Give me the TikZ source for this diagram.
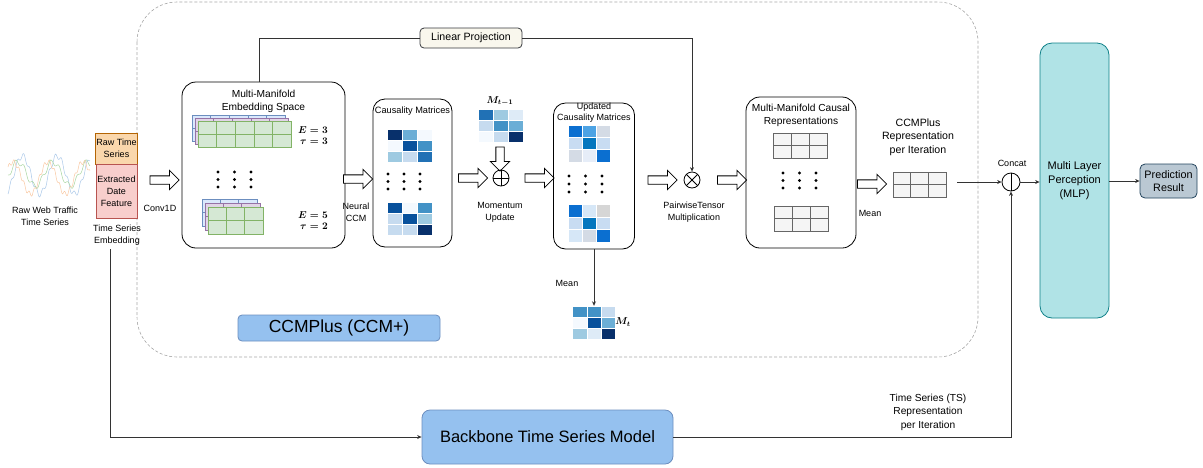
\documentclass[tikz,border=0pt]{standalone}
\usepackage{fontspec}
\setmainfont{Liberation Sans}
\usepackage{amsmath}
\usetikzlibrary{arrows.meta,positioning,calc,shapes.arrows}

% heat-map palette
\definecolor{bl0}{HTML}{F4F9FE}
\definecolor{bl1}{HTML}{DEEBF7}
\definecolor{bl2}{HTML}{C6DBEF}
\definecolor{bl3}{HTML}{9ECAE1}
\definecolor{bl4}{HTML}{6BAED6}
\definecolor{bl5}{HTML}{4292C6}
\definecolor{bl6}{HTML}{2171B5}
\definecolor{bl7}{HTML}{08519C}
\definecolor{bl8}{HTML}{08306B}
\definecolor{ub1}{HTML}{0B6FD0}
\definecolor{ub2}{HTML}{4DA3E4}
\definecolor{ub3}{HTML}{D4DBE5}
\definecolor{ub4}{HTML}{C8DCF2}
\definecolor{ub5}{HTML}{0476BE}
\definecolor{ub6}{HTML}{E6EDF8}
\definecolor{ub7}{HTML}{D6D6D6}
\definecolor{ub8}{HTML}{D6E7F7}
% boxes and lines
\definecolor{rawfill}{HTML}{FAD7AC}
\definecolor{rawline}{HTML}{B46504}
\definecolor{datefill}{HTML}{F8CECC}
\definecolor{dateline}{HTML}{B85450}
\definecolor{gfill}{HTML}{D5E8D4}
\definecolor{gline}{HTML}{82B366}
\definecolor{pfill}{HTML}{E1D5E7}
\definecolor{pline}{HTML}{9673A6}
\definecolor{bfill}{HTML}{DAE8FC}
\definecolor{bline}{HTML}{6C8EBF}
\definecolor{cellfill}{HTML}{F5F5F5}
\definecolor{cellline}{HTML}{666666}
\definecolor{ccmfill}{HTML}{95C1EF}
\definecolor{mlpfill}{HTML}{B0E3E6}
\definecolor{mlpline}{HTML}{0E8088}
\definecolor{predfill}{HTML}{BAC8D3}
\definecolor{predline}{HTML}{23445D}
\definecolor{lpfill}{HTML}{F9F7ED}
\definecolor{lpline}{HTML}{36393D}
\definecolor{conline}{HTML}{333333}
\definecolor{framegray}{HTML}{A6A6A6}
\definecolor{waveblue}{HTML}{A9C7E8}
\definecolor{wavegreen}{HTML}{A8D5A0}
\definecolor{waveorange}{HTML}{F9C9A3}

\tikzset{
  panel/.style={draw=black, line width=0.8pt, rounded corners=14pt, inner sep=0pt},
  lbl/.style={font=\fontsize{9}{12}\selectfont, align=center, inner sep=1pt},
  biglbl/.style={font=\fontsize{10.6}{13.5}\selectfont, align=center, inner sep=1pt},
  ttl/.style={font=\fontsize{10.2}{13}\selectfont, align=center, inner sep=1pt},
  fatarrow/.style={single arrow, draw=black, fill=white, line width=0.8pt, inner sep=0pt,
    text height=7.5pt, text depth=0pt, text width=0pt,
    single arrow head extend=5.5pt, minimum height=29pt},
  conn/.style={draw=conline, line width=0.8pt},
  flow/.style={-{Stealth[length=4.5pt,width=4pt]}},
  opnode/.style={circle, draw=black, line width=0.8pt, minimum size=16pt, inner sep=0pt},
  frame/.style={draw=framegray, line width=0.6pt, dash pattern=on 3pt off 2pt, rounded corners=40pt},
  wave/.style={line width=0.5pt, smooth}
}

% 3x3 heat map: top-left corner, cell width, cell height, colours row by row
\newcommand{\heatmap}[4]{%
  \foreach \hc [count=\k from 0] in {#4} {
    \pgfmathtruncatemacro{\hrow}{div(\k,3)}
    \pgfmathtruncatemacro{\hcol}{mod(\k,3)}
    \fill[\hc, draw=white, line width=0.3pt] ($#1+(\hcol*#2,\hrow*#3)$) rectangle ++(#2,#3);
  }}
% two-row table of cells: top-left corner, columns, cell width, cell height, style
\newcommand{\cellgrid}[5]{%
  \foreach \gi in {1,...,#2} \foreach \gj in {1,2}
    \draw[#5] ($#1+({(\gi-1)*#3},{(\gj-1)*#4})$) rectangle ++(#3,#4);}
% 3x3 block of dots: top-left dot, dx, dy
\newcommand{\dotblock}[3]{%
  \foreach \di in {0,1,2} \foreach \dj in {0,1,2}
    \fill ($#1+(\di*#2,\dj*#3)$) circle (1.7pt);}

\begin{document}
\begin{tikzpicture}[x=1pt, y=-1pt]
  \useasboundingbox (0,0) rectangle (1203,467);

  % CCM+ frame
  \draw[frame] (137,2) rectangle (978,357);

  % raw input series
  \draw[wave, waveblue] plot[domain=8:90, samples=120] (\x, {175+19*sin(10.3*\x+40)+3*sin(57*\x)});
  \draw[wave, wavegreen] plot[domain=8:90, samples=120] (\x, {174+12*sin(10.3*\x+85)+3*sin(41*\x)});
  \draw[wave, waveorange] plot[domain=8:90, samples=120] (\x, {178+16*sin(10.3*\x+135)+2.5*sin(71*\x)});
  \node[lbl] (rawlbl) at (45,216) {Raw Web Traffic\\Time Series};

  % time series embedding
  \node[draw=rawline, fill=rawfill, line width=0.8pt, inner sep=0pt, lbl,
        minimum width=41pt, minimum height=31pt] (rts) at (116.5,148.5) {Raw Time\\Series};
  \node[draw=dateline, fill=datefill, line width=0.8pt, inner sep=0pt, lbl,
        minimum width=41pt, minimum height=54pt] (edf) at (116.5,191) {Extracted\\Date\\Feature};
  \node[lbl] (emblbl) at (117,235) {Time Series\\Embedding};
  \coordinate (tap) at (110,249);

  \node[fatarrow] (conv) at (162.5,180) {};
  \node[lbl] (convlbl) at (160,208) {Conv1D};

  % multi-manifold embedding space
  \node[panel, minimum width=163pt, minimum height=166pt] (mme) at (263.5,165) {};
  \node[ttl] (mmetitle) at (263.5,101) {Multi-Manifold\\Embedding Space};
  \cellgrid{(192,115)}{5}{18.6}{13}{draw=bline, fill=bfill, line width=0.5pt}
  \cellgrid{(195,118)}{5}{18.6}{13}{draw=pline, fill=pfill, line width=0.5pt}
  \cellgrid{(198,121)}{5}{18.6}{13}{draw=gline, fill=gfill, line width=0.5pt}
  \cellgrid{(202,199)}{3}{18.3}{13.5}{draw=bline, fill=bfill, line width=0.5pt}
  \cellgrid{(205,203)}{3}{18.3}{13.5}{draw=pline, fill=pfill, line width=0.5pt}
  \cellgrid{(208,207)}{3}{18.3}{13.5}{draw=gline, fill=gfill, line width=0.5pt}
  \node[font=\boldmath\fontsize{10}{11}\selectfont, align=right, anchor=east, inner sep=0pt] (et1) at (328,136) {$E=3$\\$\tau=3$};
  \node[font=\boldmath\fontsize{10}{11}\selectfont, align=right, anchor=east, inner sep=0pt] (et2) at (328,221) {$E=5$\\$\tau=2$};
  \dotblock{(218,172)}{16.5}{7.5}

  \node[fatarrow] (nccm) at (356,179) {};
  \node[lbl] (nccmlbl) at (356,212) {Neural\\CCM};

  % causality matrices
  \node[panel, rounded corners=12pt, minimum width=79pt, minimum height=148pt] (cm) at (412.5,173) {};
  \node[lbl, font=\fontsize{9.2}{11}\selectfont] (cmtitle) at (412.5,111) {Causality Matrices};
  \heatmap{(387,129)}{15}{11}{bl8,bl4,bl0,bl0,bl7,bl5,bl3,bl2,bl6}
  \dotblock{(388,174)}{16}{7.5}
  \heatmap{(387,202)}{15}{11}{bl7,bl0,bl5,bl2,bl7,bl3,bl2,bl2,bl8}

  \node[fatarrow] (toplus) at (471,178) {};

  % momentum update
  \node[font=\boldmath\fontsize{10}{11}\selectfont, inner sep=0pt] (mprev) at (500,101) {$M_{t-1}$};
  \heatmap{(478,109)}{15}{11}{bl6,bl3,bl1,bl2,bl5,bl4,bl0,bl2,bl8}
  \node[fatarrow, rotate=-90, minimum height=24pt] (down) at (500,157) {};
  \node[opnode, path picture={
      \draw (path picture bounding box.north) -- (path picture bounding box.south)
            (path picture bounding box.west) -- (path picture bounding box.east);}] (plus) at (501,178) {};
  \node[lbl] (momlbl) at (500,212) {Momentum\\Update};

  \node[fatarrow] (toucm) at (537.5,178) {};

  % updated causality matrices
  \node[panel, rounded corners=12pt, minimum width=81pt, minimum height=146pt] (ucm) at (594,176) {};
  \node[lbl, font=\fontsize{9}{11}\selectfont] (ucmtitle) at (594,113) {Updated\\Causality Matrices};
  \heatmap{(568,125)}{14}{12.3}{ub1,ub2,ub3,ub4,ub5,ub4,ub3,ub6,ub1}
  \dotblock{(569,176)}{16.5}{8}
  \heatmap{(568,204)}{14}{12.7}{ub1,ub8,ub7,ub4,ub5,ub4,ub8,ub3,ub1}

  \node[inner sep=0pt, minimum width=43pt, minimum height=33pt] (mt) at (594,322.5) {};
  \heatmap{(572.5,306)}{14.3}{11}{bl5,bl5,bl2,bl0,bl7,bl4,bl3,bl1,bl8}
  \node[font=\boldmath\fontsize{10}{11}\selectfont, inner sep=0pt] (mtlbl) at (623,322) {$M_t$};
  \draw[conn, flow] (ucm.south) -- (mt.north);
  \node[lbl] (meanlbl) at (567,283) {Mean};

  \node[fatarrow] (totimes) at (660.5,180) {};
  \node[opnode, path picture={
      \draw (path picture bounding box.north west) -- (path picture bounding box.south east)
            (path picture bounding box.south west) -- (path picture bounding box.north east);}] (times) at (692,180) {};
  \node[lbl] (ptlbl) at (694,212) {PairwiseTensor\\Multiplication};

  % linear projection
  \node[draw=lpline, fill=lpfill, line width=0.8pt, rounded corners=4pt, biglbl,
        minimum width=102pt, minimum height=20pt] (lp) at (471,38) {Linear Projection};
  \draw[conn] ([xshift=-4pt]mme.north) |- (lp.west);
  \draw[conn, flow] (lp.east) -| (times.north);

  \node[fatarrow] (tomcr) at (730,180) {};

  % multi-manifold causal representations
  \node[panel, minimum width=110pt, minimum height=151pt] (mcr) at (801,172.5) {};
  \node[ttl] (mcrtitle) at (801,115) {Multi-Manifold Causal\\Representations};
  \cellgrid{(773,133)}{3}{18}{12.5}{draw=cellline, fill=cellfill, line width=0.5pt}
  \dotblock{(783,173)}{16.5}{7.5}
  \cellgrid{(774,206)}{3}{18}{12.5}{draw=cellline, fill=cellfill, line width=0.5pt}

  \node[fatarrow] (torep) at (870,184) {};
  \node[lbl] (mean2lbl) at (870,213) {Mean};

  % CCM+ representation
  \node[inner sep=0pt, minimum width=53pt, minimum height=25pt] (rep) at (919.5,184.5) {};
  \cellgrid{(893,172)}{3}{17.7}{12.5}{draw=cellline, fill=cellfill, line width=0.5pt}
  \node[biglbl] (replbl) at (918,137) {CCMPlus\\Representation\\per Iteration};
  \coordinate (repout) at (957,182);

  % concat, MLP and output
  \node[opnode, minimum size=18pt, path picture={
      \draw (path picture bounding box.north) -- (path picture bounding box.south);}] (concat) at (1011,182) {};
  \node[lbl] (concatlbl) at (1012,163) {Concat};
  \draw[conn, flow] (repout) -- (concat.west);

  \node[draw=mlpline, fill=mlpfill, line width=0.8pt, rounded corners=12pt, align=center,
        font=\fontsize{11}{14}\selectfont, minimum width=69pt, minimum height=275pt] (mlp) at (1074.5,180.5)
        {Multi Layer\\Perception\\(MLP)};
  \node[draw=predline, fill=predfill, line width=0.8pt, rounded corners=5pt, align=center, inner sep=0pt,
        font=\fontsize{10.8}{13}\selectfont, minimum width=57pt, minimum height=34pt] (pred) at (1168.5,181)
        {Prediction\\Result};
  \draw[conn, flow] (concat.east) -- (concat.east -| mlp.west);
  \draw[conn, flow] (mlp.east |- pred.west) -- (pred.west);

  % CCM+ tag
  \node[draw=bline, fill=ccmfill, line width=0.8pt, rounded corners=4pt, font=\fontsize{17.5}{20}\selectfont,
        minimum width=202pt, minimum height=26pt, inner sep=0pt] (ccmtag) at (339,328) {CCMPlus (CCM+)};

  % backbone branch
  \node[draw=bline, fill=ccmfill, line width=0.8pt, rounded corners=8pt, font=\fontsize{16.5}{19}\selectfont,
        minimum width=251pt, minimum height=54pt] (bb) at (547.5,437) {Backbone Time Series Model};
  \draw[conn, flow] (tap) |- (bb.west);
  \draw[conn, flow] (bb.east) -| (concat.south);
  \node[biglbl, font=\fontsize{10.2}{13.5}\selectfont] (tslbl) at (928,412) {Time Series (TS)\\Representation\\per Iteration};
\end{tikzpicture}
\end{document}
